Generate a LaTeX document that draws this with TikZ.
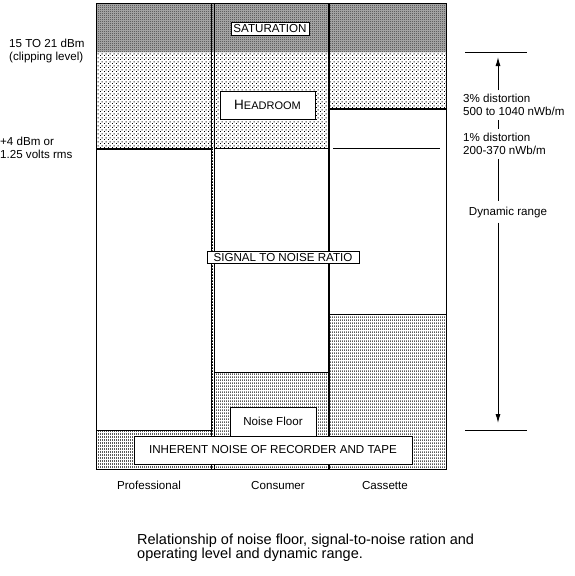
\documentclass[tikz,border=0pt]{standalone}
\usepackage{fontspec}
\setmainfont{Liberation Sans}
\usetikzlibrary{patterns,arrows.meta}
\pgfdeclarepatternformonly{satpat}{\pgfpointorigin}{\pgfpoint{2pt}{2pt}}{\pgfpoint{2pt}{2pt}}{%
  \pgfpathrectangle{\pgfpointorigin}{\pgfpoint{1.1pt}{1.1pt}}%
  \pgfpathrectangle{\pgfpoint{1pt}{1pt}}{\pgfpoint{1.1pt}{1.1pt}}%
  \pgfusepath{fill}}
\pgfdeclarepatternformonly{hdpat}{\pgfpointorigin}{\pgfpoint{4pt}{4pt}}{\pgfpoint{4pt}{4pt}}{%
  \pgfpathrectangle{\pgfpointorigin}{\pgfpoint{1.1pt}{1.1pt}}%
  \pgfpathrectangle{\pgfpoint{2pt}{2pt}}{\pgfpoint{1.1pt}{1.1pt}}%
  \pgfusepath{fill}}
\pgfdeclarepatternformonly{nzpat}{\pgfpointorigin}{\pgfpoint{2pt}{3pt}}{\pgfpoint{2pt}{3pt}}{%
  \pgfpathrectangle{\pgfpointorigin}{\pgfpoint{1pt}{2.3pt}}%
  \pgfusepath{fill}}
\begin{document}
\begin{tikzpicture}[x=1pt,y=-1pt,
  txt/.style={font=\fontsize{11.6}{13}\selectfont, inner sep=0pt, align=left},
  labelbox/.style={draw, fill=white, line width=1pt, font=\fontsize{11.6}{13}\selectfont, inner sep=1pt},
  thick2/.style={line width=2pt},
  thin1/.style={line width=1pt},
  arr/.style={line width=1pt, -{Latex[length=9pt,width=5pt]}}]
\useasboundingbox (0,0) rectangle (574,576);
\fill[white] (0,0) rectangle (574,576);
% saturation band
\fill[black!30] (96,3) rectangle (446,52);
\fill[pattern=satpat, pattern color=black!80] (96,3) rectangle (446,52);
% headroom
\fill[pattern=hdpat] (96,52) rectangle (211,149);
\fill[pattern=hdpat] (211,52) rectangle (329,148);
\fill[pattern=hdpat] (329,52) rectangle (446,109);
% noise
\fill[pattern=nzpat] (96,430) rectangle (214,469);
\fill[pattern=nzpat] (211,148) rectangle (214,430);
\fill[pattern=nzpat] (214,372) rectangle (329,469);
\fill[pattern=nzpat] (329,314) rectangle (446,469);
% borders
\draw[thin1] (96,3) rectangle (446,469);
\draw[thin1] (211,3) -- (211,469);
\draw[thin1] (214,3) -- (214,469);
\draw[thick2] (329,3) -- (329,469);
\draw[thick2] (96,149) -- (211,149);
\draw[thin1] (96,430) -- (211,430);
\draw[thin1] (214,148) -- (329,148);
\draw[thin1] (214,372) -- (329,372);
\draw[thick2] (329,109) -- (446,109);
\draw[thin1] (329,314) -- (446,314);
\draw[thin1] (333,148) -- (440,148);
% label boxes
\node[labelbox, minimum width=78pt, minimum height=13pt] (sat) at (270,28.5) {SATURATION};
\node[labelbox, minimum width=95pt, minimum height=28pt] (head) at (267.5,105) {{\fontsize{13.5}{14}\selectfont H}{\fontsize{11}{12}\selectfont EADROOM}};
\node[labelbox, minimum width=152pt, minimum height=12pt] (snr) at (283,257.5) {SIGNAL TO NOISE RATIO};
\node[labelbox, minimum width=86pt, minimum height=29pt] (nf) at (273,421.5) {Noise Floor};
\node[labelbox, minimum width=278pt, minimum height=28pt] (inh) at (273,450) {INHERENT NOISE OF RECORDER AND TAPE};
% left labels
\node[txt, anchor=west] (clip) at (9,50.5) {15 TO 21 dBm\\(clipping level)};
\node[txt, anchor=west] (op) at (0,148) {+4 dBm or\\1.25 volts rms};
% column labels
\node[txt] (prof) at (149,485) {Professional};
\node[txt] (cons) at (278,485) {Consumer};
\node[txt] (cass) at (385,485) {Cassette};
% right side
\coordinate (topL) at (465,52);
\coordinate (topR) at (527,52);
\coordinate (botL) at (465,430);
\coordinate (botR) at (527,430);
\coordinate (atop) at (498,57);
\coordinate (abot) at (498,423);
\draw[thin1] (topL) -- (topR);
\draw[thin1] (botL) -- (botR);
\node[txt, anchor=west, inner ysep=4pt] (d3) at (463,105) {3\% distortion\\500 to 1040 nWb/m};
\node[txt, anchor=west, inner ysep=4pt] (d1) at (463,144) {1\% distortion\\200-370 nWb/m};
\node[txt, inner ysep=5pt] (dr) at (508,212) {Dynamic range};
\draw[arr] (d3.north -| atop) -- (atop);
\draw[thin1] (d3.south -| atop) -- (d1.north -| atop);
\draw[thin1] (d1.south -| atop) -- (dr.north -| atop);
\draw[arr] (dr.south -| atop) -- (abot);
% caption
\node[txt, anchor=west, font=\fontsize{14.5}{14}\selectfont] (cap) at (137,548) {Relationship of noise floor, signal-to-noise ration and\\operating level and dynamic range.};
\end{tikzpicture}
\end{document}
